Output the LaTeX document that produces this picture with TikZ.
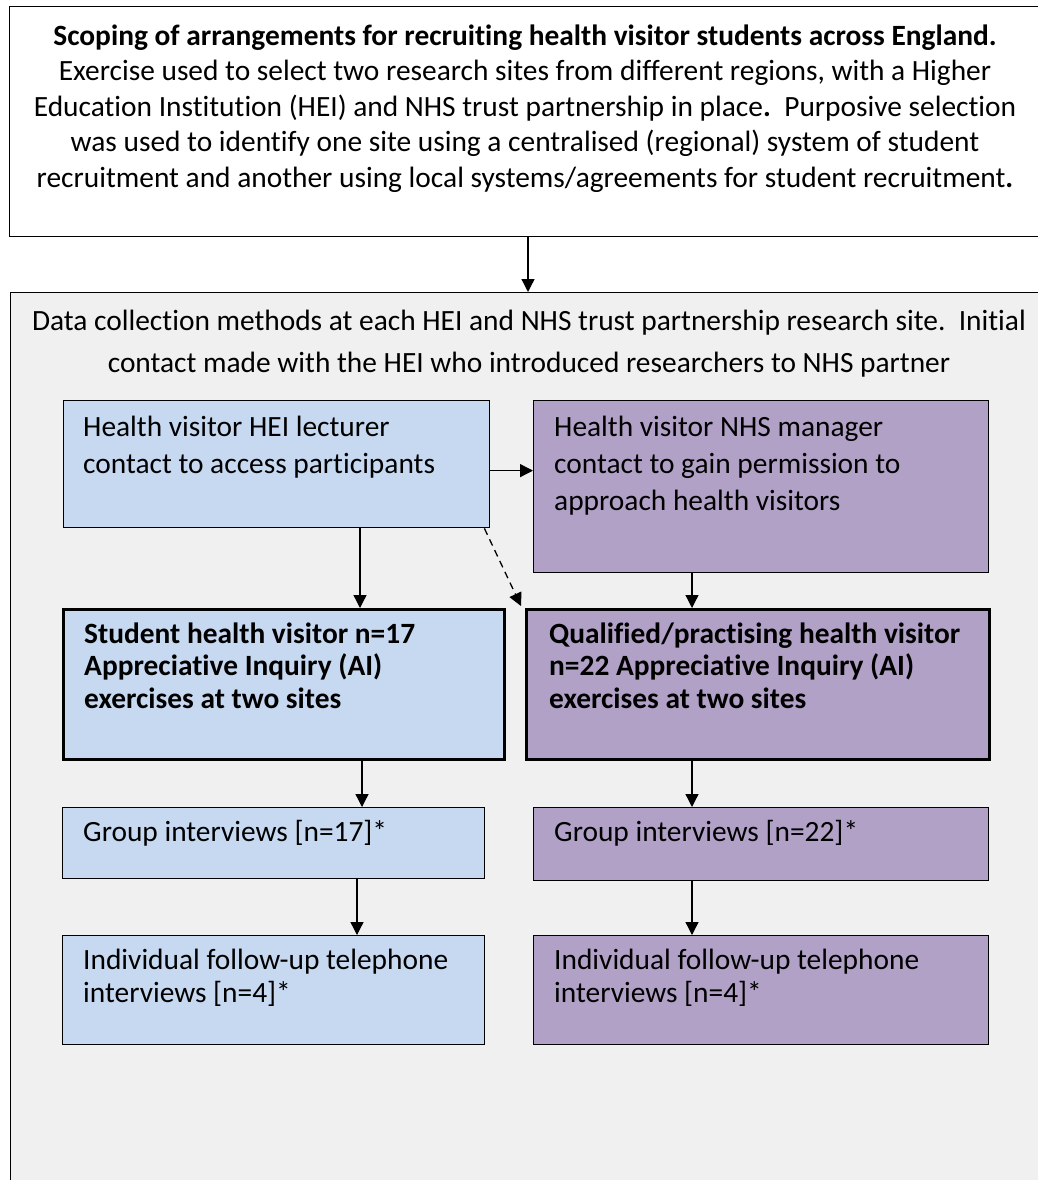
\documentclass[tikz,border=0pt]{standalone}
\usepackage{fontspec}
\setmainfont{Carlito}[Ligatures=NoCommon]
\usetikzlibrary{arrows.meta,calc}
\definecolor{hvblue}{HTML}{C6D9F1}
\definecolor{hvpurple}{HTML}{B2A1C7}
\definecolor{hvgray}{HTML}{F0F0F0}
\tikzset{
  frame/.style={draw, line width=1.4pt, inner sep=0pt, anchor=north west},
  thinbox/.style={frame, line width=1.4pt},
  thickbox/.style={frame, line width=3pt},
  txt/.style={inner sep=0pt, anchor=base west, align=left, font=\fontsize{29.4}{36.7}\selectfont},
  txtb/.style={txt, font=\fontsize{29.4}{32.5}\selectfont},
  boldtxt/.style={txt, font=\fontsize{29.4}{32.5}\selectfont\bfseries},
  arr/.style={line width=1.3pt, -{Triangle[length=13pt,width=13pt]}},
}
\begin{document}
\begin{tikzpicture}[x=1pt,y=-1pt]
\useasboundingbox (0,0) rectangle (1038,1180);
% top box
\node[frame, fill=white, minimum width=1040pt, minimum height=230pt] (top) at (9,6) {};
% (base anchor = baseline of last line)
\node[inner sep=0pt, anchor=base, align=center, font=\fontsize{29.4}{35.5}\selectfont] (toptext) at (525,187)
 {\textbf{Scoping of arrangements for recruiting health visitor students across England.}\\
 Exercise used to select two research sites from different regions, with a Higher\\
 Education Institution (HEI) and NHS trust partnership in place\textbf{.}\ \ Purposive selection\\
 was used to identify one site using a centralised (regional) system of student\\
 recruitment and another using local systems/agreements for student recruitment\textbf{.}};
% big box
\node[frame, fill=hvgray, minimum width=1040pt, minimum height=900pt] (big) at (10,292) {};
\node[inner sep=0pt, anchor=base, align=center, font=\fontsize{29.4}{42}\selectfont] (bigtext) at (529,372)
 {Data collection methods at each HEI and NHS trust partnership research site.\ \ Initial\\
 contact made with the HEI who introduced researchers to NHS partner};
\draw[arr] (top.south -| 528,0) -- (big.north -| 528,0);
% boxes
\node[thinbox, fill=hvblue, minimum width=426pt, minimum height=127pt] (A) at (63,400) {};
\node[txt] (Atext) at (83,473) {Health visitor HEI lecturer\\contact to access participants};
\node[thinbox, fill=hvpurple, minimum width=455pt, minimum height=172pt] (B) at (533,400) {};
\node[txt] (Btext) at (554,510) {Health visitor NHS manager\\contact to gain permission to\\approach health visitors};
\node[thickbox, fill=hvblue, minimum width=441pt, minimum height=150pt] (C) at (62,608) {};
\node[boldtxt] (Ctext) at (84,708) {Student health visitor n=17\\Appreciative Inquiry (AI)\\exercises at two sites};
\node[thickbox, fill=hvpurple, minimum width=463pt, minimum height=150pt] (D) at (525,608) {};
\node[boldtxt] (Dtext) at (549,708) {Qualified/practising health visitor\\n=22 Appreciative Inquiry (AI)\\exercises at two sites};
\node[thinbox, fill=hvblue, minimum width=422pt, minimum height=71pt] (E) at (62,807) {};
\node[txt] (Etext) at (83,841) {Group interviews [n=17]*};
\node[thinbox, fill=hvpurple, minimum width=455pt, minimum height=73pt] (F) at (533,807) {};
\node[txt] (Ftext) at (554,841) {Group interviews [n=22]*};
\node[thinbox, fill=hvblue, minimum width=422pt, minimum height=109pt] (G) at (62,935) {};
\node[txtb] (Gtext) at (83,1002) {Individual follow-up telephone\\interviews [n=4]*};
\node[thinbox, fill=hvpurple, minimum width=455pt, minimum height=109pt] (H) at (533,935) {};
\node[txtb] (Htext) at (554,1002) {Individual follow-up telephone\\interviews [n=4]*};
% connectors
\coordinate (ab) at ($(A.north east)!0.55!(A.south east)$);
\draw[arr] (ab) -- (ab -| B.west);
\draw[arr] (A.south -| 360,0) -- (C.north -| 360,0);
\draw[arr, dashed, dash pattern=on 7pt off 5pt] ([xshift=-6pt]A.south east) -- ([xshift=-4pt,yshift=2pt]D.north west);
\draw[arr] (B.south -| 692,0) -- (D.north -| 692,0);
\draw[arr] (C.south -| 362,0) -- (E.north -| 362,0);
\draw[arr] (D.south -| 692,0) -- (F.north -| 692,0);
\draw[arr] (E.south -| 357,0) -- (G.north -| 357,0);
\draw[arr] (F.south -| 692,0) -- (H.north -| 692,0);
\end{tikzpicture}
\end{document}
